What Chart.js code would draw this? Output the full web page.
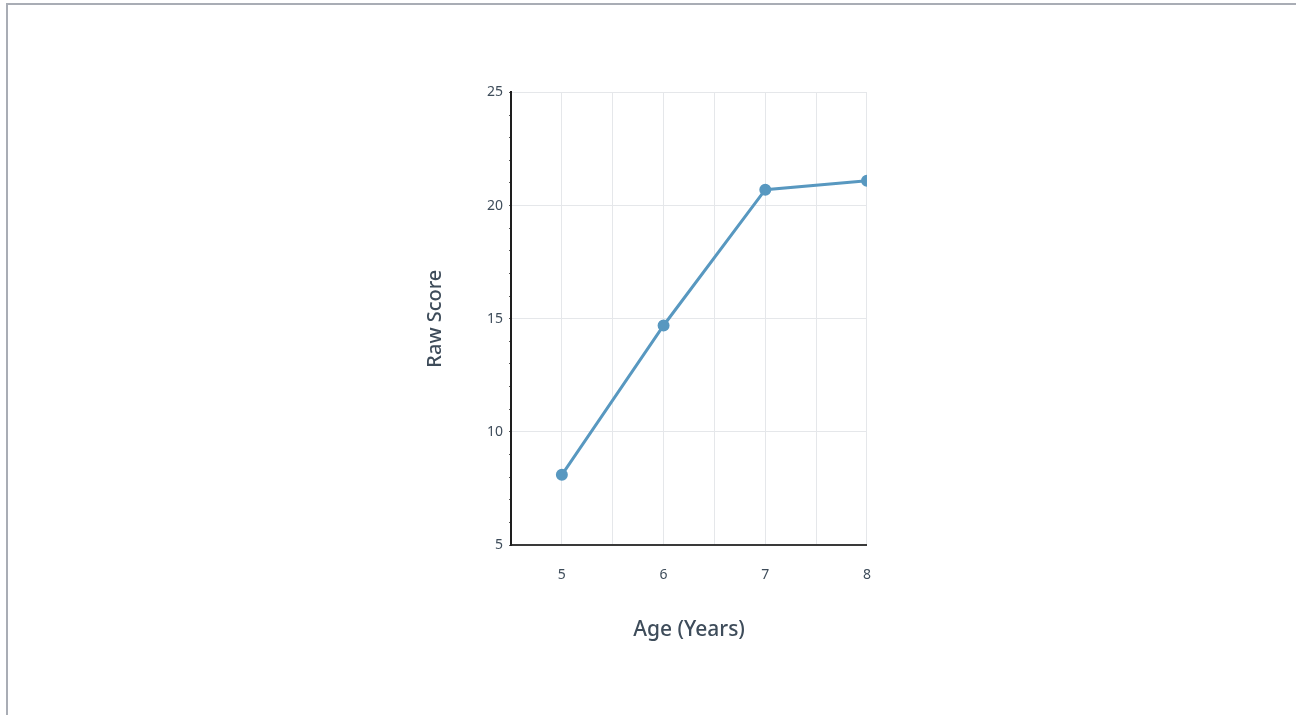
<!DOCTYPE html>
<html>
<head>
<meta charset="utf-8">
<script src="https://cdn.jsdelivr.net/npm/chart.js@4"></script>
<style>
    html, body { margin: 0; padding: 0; background: #fff; overflow: hidden; }
    #frame {
        position: absolute; left: 6px; top: 3px; width: 1400px; height: 800px;
        border-left: 2px solid #a9adb5; border-top: 2px solid #a9adb5;
    }
    #box { position: absolute; left: 423px; top: 78px; width: 464px; height: 575px; }
</style>
</head>
<body>
<div id="frame"></div>
<div id="box"><canvas id="scoreChart"></canvas></div>
<script>
    var ages = [5, 6, 7, 8];
    var rawScores = [8.1, 14.7, 20.7, 21.1];
    var xTickLabels = [5, 6, 7, 8];
    var yTickLabels = [5, 10, 15, 20, 25];

    var textColor = '#3e4c5a';
    var gridColor = '#e5e7ea';

    var points = ages.map(function (a, i) { return { x: a, y: rawScores[i] }; });

    var ctx = document.getElementById('scoreChart').getContext('2d');
    new Chart(ctx, {
        type: 'line',
        data: {
            datasets: [{
                data: points,
                borderColor: '#5898c0',
                backgroundColor: '#5898c0',
                borderWidth: 3,
                pointRadius: 4.5,
                pointHoverRadius: 4.5,
                tension: 0
            }]
        },
        options: {
            responsive: true,
            maintainAspectRatio: false,
            animation: false,
            layout: { padding: { top: 14, right: 20, bottom: 10, left: 0 } },
            plugins: { legend: { display: false }, tooltip: { enabled: false } },
            scales: {
                x: {
                    type: 'linear',
                    min: 4.5,
                    max: 8,
                    border: { color: '#3a3a3a', width: 2 },
                    grid: { color: gridColor, tickColor: 'transparent', tickLength: 6 },
                    ticks: {
                        stepSize: 0.5,
                        autoSkip: false,
                        maxRotation: 0,
                        padding: 16,
                        color: textColor,
                        font: { family: 'Noto Sans', size: 14 },
                        callback: function (v) { return xTickLabels.indexOf(v) >= 0 ? String(v) : ''; }
                    },
                    title: {
                        display: true,
                        text: 'Age (Years)',
                        color: textColor,
                        font: { family: 'Noto Sans', size: 21, weight: '500' },
                        padding: { top: 18, bottom: 0 }
                    }
                },
                y: {
                    min: 5,
                    max: 25,
                    border: { color: '#1e1e1e', width: 2 },
                    grid: {
                        color: function (c) { return yTickLabels.indexOf(c.tick.value) >= 0 ? gridColor : 'transparent'; },
                        tickColor: '#555',
                        tickLength: 2
                    },
                    ticks: {
                        stepSize: 1,
                        autoSkip: false,
                        padding: 6,
                        color: textColor,
                        font: { family: 'Noto Sans', size: 14 },
                        callback: function (v) { return yTickLabels.indexOf(v) >= 0 ? String(v) : ''; }
                    },
                    title: {
                        display: true,
                        text: 'Raw Score',
                        color: textColor,
                        font: { family: 'Noto Sans', size: 20, weight: '500' },
                        padding: { top: 0, bottom: 34 }
                    }
                }
            }
        }
    });
</script>
</body>
</html>
